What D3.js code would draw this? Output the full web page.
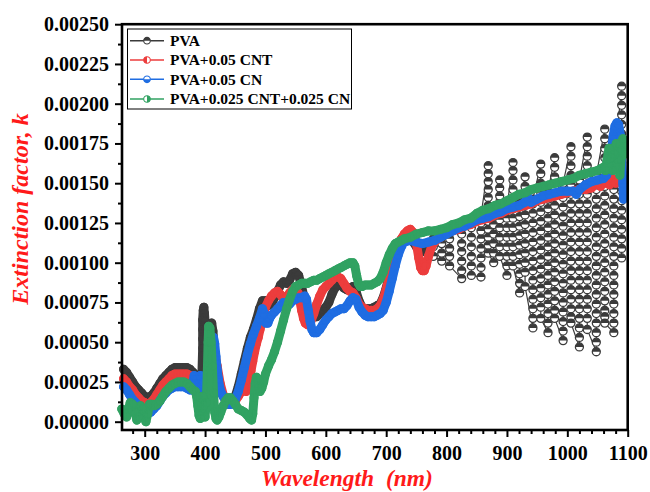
<!DOCTYPE html>
<html><head><meta charset="utf-8">
<script src="https://cdn.jsdelivr.net/npm/d3@7/dist/d3.min.js"></script>
<style>
body{margin:0;background:#fff}
svg text{font-family:"Liberation Serif","Times New Roman",serif;font-weight:bold}
</style>
</head><body>
<svg id="chart" width="650" height="492"></svg>
<script>
// ---------- DATA ----------
const xTicks = [300, 400, 500, 600, 700, 800, 900, 1000, 1100];
const xMinorTicks = [280,320,340,360,380,420,440,460,480,520,540,560,580,620,640,660,680,720,740,760,780,820,840,860,880,920,940,960,980,1020,1040,1060,1080];
const yTicks = [0, 0.00025, 0.0005, 0.00075, 0.001, 0.00125, 0.0015, 0.00175, 0.002, 0.00225, 0.0025];
const yMinorTicks = [0.000125,0.000375,0.000625,0.000875,0.001125,0.001375,0.001625,0.001875,0.002125,0.002375];
const seriesNames = ["PVA", "PVA+0.05 CNT", "PVA+0.05 CN", "PVA+0.025 CNT+0.025 CN"];
const seriesColors = ["#3b3b3b", "#ec3d3d", "#1f6de2", "#31a262"];
const seriesHalf = ["up", "left", "down", "right"];

// PVA (smooth part) [wavelength nm, k]
const pvaK = [[265,0.00033],[270,0.00031],[275,0.00028],[280,0.00025],[285,0.00022],[290,0.00020],[295,0.00018],[300,0.00016],[305,0.00015],[310,0.00016],[315,0.00018],[320,0.00021],[325,0.00024],[330,0.00027],[335,0.00029],[340,0.00031],[345,0.00033],[350,0.00034],[355,0.00034],[360,0.00034],[365,0.00034],[370,0.00034],[375,0.00033],[380,0.00031],[385,0.00029],[388,0.00026],[391,0.00022],[394,0.00020],[396,0.00046],[396,0.00052],[396,0.00058],[396,0.00064],[397,0.00070],[398,0.00072],[399,0.00068],[400,0.00063],[401,0.00058],[403,0.00053],[405,0.00051],[407,0.00055],[409,0.00060],[411,0.00062],[413,0.00057],[415,0.00048],[417,0.00039],[419,0.00032],[421,0.00027],[425,0.00021],[430,0.00016],[435,0.00013],[440,0.00011],[445,0.00012],[450,0.00016],[455,0.00022],[460,0.00030],[465,0.00038],[470,0.00046],[475,0.00053],[480,0.00058],[485,0.00064],[490,0.00071],[495,0.00076],[500,0.00076],[505,0.00073],[510,0.00074],[515,0.00078],[520,0.00082],[525,0.00086],[530,0.00088],[535,0.00087],[540,0.00089],[545,0.00093],[550,0.00094],[555,0.00092],[560,0.00085],[565,0.00076],[570,0.00070],[575,0.00067],[580,0.00066],[585,0.00066],[590,0.00068],[595,0.00070],[600,0.00072],[605,0.00075],[610,0.00080],[615,0.00084],[620,0.00086],[625,0.00086],[630,0.00084],[635,0.00083],[640,0.00084],[645,0.00085],[650,0.00082],[655,0.00076],[660,0.00072],[665,0.00071],[670,0.00071],[675,0.00071],[680,0.00072],[685,0.00073],[690,0.00074],[695,0.00078],[700,0.00084],[705,0.00092],[710,0.00100],[715,0.00106],[720,0.00110],[725,0.00113],[730,0.00115],[735,0.00117],[740,0.00116],[745,0.00113],[750,0.00110],[755,0.00108],[760,0.00107],[765,0.00108],[770,0.00110]];

// PVA interference-fringe region: wavelength of each column and the k values stacked in it
const pvaFringeNm = [778, 792, 805, 825, 841, 857, 869, 878, 888, 900, 910, 921, 930, 943, 956, 968, 979, 993, 1006, 1020, 1033, 1048, 1062, 1077, 1090];
const pvaFringeK = [
 [0.00115,0.00110,0.00104],
 [0.00101,0.00106,0.00112,0.00118],
 [0.00120,0.00115,0.00109,0.00104,0.00098],
 [0.00090,0.00095,0.00101,0.00107,0.00112,0.00118,0.00124],
 [0.00128,0.00122,0.00116,0.00110,0.00104,0.00098,0.00092],
 [0.00091,0.00097,0.00103,0.00109,0.00115,0.00120,0.00125,0.00130],
 [0.00161,0.00156,0.00151,0.00146,0.00141,0.00136,0.00131,0.00126,0.00121,0.00116,0.00111,0.00106],
 [0.00100,0.00106,0.00112,0.00118,0.00124,0.00130],
 [0.00152,0.00147,0.00142,0.00137,0.00132,0.00127,0.00122,0.00116,0.00110,0.00104],
 [0.00092,0.00098,0.00104,0.00110,0.00116,0.00122,0.00128,0.00135],
 [0.00163,0.00158,0.00152,0.00146,0.00140,0.00134,0.00128,0.00122,0.00116,0.00110,0.00104,0.00098],
 [0.00081,0.00087,0.00093,0.00099,0.00105,0.00111,0.00117,0.00123,0.00129,0.00135,0.00138],
 [0.00154,0.00148,0.00142,0.00136,0.00130,0.00124,0.00118,0.00112,0.00106,0.00100,0.00094,0.00085],
 [0.00059,0.00065,0.00071,0.00077,0.00083,0.00089,0.00095,0.00101,0.00107,0.00113,0.00119,0.00125,0.00131,0.00137,0.00140],
 [0.00162,0.00156,0.00150,0.00144,0.00138,0.00132,0.00126,0.00120,0.00114,0.00108,0.00102,0.00096,0.00090,0.00084,0.00078,0.00072,0.00065],
 [0.00056,0.00062,0.00068,0.00074,0.00080,0.00086,0.00092,0.00098,0.00104,0.00110,0.00116,0.00122,0.00128,0.00134,0.00140,0.00145],
 [0.00166,0.00160,0.00154,0.00148,0.00142,0.00136,0.00130,0.00124,0.00118,0.00112,0.00106,0.00100,0.00094,0.00088,0.00082,0.00076,0.00070,0.00065],
 [0.00051,0.00057,0.00063,0.00069,0.00075,0.00081,0.00087,0.00093,0.00099,0.00105,0.00111,0.00117,0.00123,0.00129,0.00135,0.00141,0.00146,0.00150],
 [0.00173,0.00167,0.00161,0.00155,0.00149,0.00143,0.00137,0.00131,0.00125,0.00119,0.00113,0.00107,0.00101,0.00095,0.00089,0.00083,0.00077,0.00071,0.00066,0.00062],
 [0.00047,0.00053,0.00059,0.00065,0.00071,0.00077,0.00083,0.00089,0.00095,0.00101,0.00107,0.00113,0.00119,0.00125,0.00131,0.00137,0.00143,0.00148,0.00152],
 [0.00179,0.00173,0.00167,0.00161,0.00155,0.00149,0.00143,0.00137,0.00131,0.00125,0.00119,0.00113,0.00107,0.00101,0.00095,0.00089,0.00083,0.00077,0.00071,0.00065,0.00058],
 [0.00044,0.00050,0.00056,0.00062,0.00068,0.00074,0.00080,0.00086,0.00092,0.00098,0.00104,0.00110,0.00116,0.00122,0.00128,0.00134,0.00140,0.00146,0.00151,0.00155],
 [0.00184,0.00178,0.00172,0.00166,0.00160,0.00154,0.00148,0.00142,0.00136,0.00130,0.00124,0.00118,0.00112,0.00106,0.00100,0.00094,0.00088,0.00082,0.00076,0.00070,0.00066,0.00062],
 [0.00056,0.00062,0.00068,0.00074,0.00080,0.00086,0.00092,0.00098,0.00104,0.00110,0.00116,0.00122,0.00128,0.00134,0.00140,0.00146,0.00152,0.00156,0.00160],
 [0.00211,0.00205,0.00199,0.00193,0.00187,0.00181,0.00175,0.00169,0.00163,0.00157,0.00151,0.00145,0.00139,0.00133,0.00127,0.00121,0.00115,0.00109,0.00103]
];

// PVA+0.05 CNT
const cntK = [[265,0.00027],[270,0.00025],[275,0.00022],[280,0.00020],[285,0.00017],[290,0.00015],[295,0.00013],[300,0.00012],[305,0.00011],[310,0.00012],[315,0.00014],[320,0.00017],[325,0.00020],[330,0.00023],[335,0.00025],[340,0.00027],[345,0.00029],[350,0.00030],[355,0.00030],[360,0.00030],[365,0.00030],[370,0.00030],[375,0.00029],[380,0.00027],[385,0.00026],[390,0.00026],[395,0.00027],[400,0.00028],[405,0.00030],[410,0.00040],[415,0.00045],[420,0.00035],[425,0.00024],[430,0.00017],[435,0.00014],[440,0.00012],[445,0.00012],[450,0.00013],[455,0.00016],[460,0.00019],[465,0.00020],[468,0.00019],[470,0.00021],[473,0.00026],[476,0.00032],[479,0.00038],[482,0.00044],[485,0.00049],[488,0.00053],[491,0.00058],[494,0.00063],[497,0.00068],[500,0.00072],[505,0.00076],[510,0.00079],[515,0.00081],[520,0.00082],[525,0.00080],[530,0.00077],[535,0.00078],[540,0.00081],[545,0.00083],[550,0.00083],[554,0.00081],[557,0.00076],[560,0.00070],[563,0.00065],[566,0.00062],[570,0.00061],[575,0.00063],[580,0.00068],[585,0.00074],[590,0.00079],[595,0.00083],[600,0.00085],[605,0.00087],[610,0.00089],[615,0.00091],[620,0.00091],[625,0.00090],[630,0.00087],[635,0.00084],[640,0.00082],[645,0.00081],[650,0.00078],[655,0.00074],[660,0.00072],[665,0.00071],[670,0.00070],[675,0.00070],[680,0.00070],[685,0.00071],[690,0.00073],[695,0.00077],[700,0.00083],[705,0.00091],[710,0.00099],[715,0.00106],[720,0.00111],[725,0.00115],[730,0.00118],[735,0.00120],[740,0.00121],[745,0.00119],[750,0.00112],[754,0.00103],[757,0.00097],[760,0.00095],[763,0.00095],[766,0.00098],[770,0.00104],[775,0.00110],[780,0.00113],[785,0.00115],[790,0.00116],[795,0.00118],[800,0.00119],[810,0.00120],[820,0.00121],[830,0.00123],[840,0.00124],[850,0.00126],[860,0.00127],[870,0.00128],[880,0.00130],[890,0.00131],[900,0.00133],[910,0.00134],[920,0.00135],[930,0.00136],[940,0.00137],[950,0.00139],[960,0.00140],[970,0.00141],[980,0.00142],[990,0.00143],[1000,0.00144],[1010,0.00145],[1020,0.00146],[1030,0.00146],[1040,0.00147],[1045,0.00149],[1050,0.00150],[1055,0.00148],[1060,0.00152],[1065,0.00150],[1070,0.00149],[1075,0.00153],[1080,0.00150],[1085,0.00152],[1090,0.00150]];

// PVA+0.05 CN
const cnK = [[265,0.00022],[270,0.00020],[275,0.00017],[280,0.00014],[285,0.00012],[290,0.00010],[295,0.00008],[300,0.00007],[305,0.00006],[310,0.00006],[315,0.00008],[320,0.00010],[325,0.00013],[330,0.00016],[335,0.00018],[340,0.00020],[345,0.00021],[350,0.00022],[355,0.00022],[360,0.00022],[365,0.00022],[370,0.00021],[375,0.00020],[378,0.00020],[380,0.00025],[382,0.00029],[384,0.00026],[386,0.00021],[388,0.00018],[390,0.00024],[392,0.00029],[394,0.00024],[396,0.00019],[398,0.00025],[400,0.00029],[402,0.00027],[404,0.00021],[406,0.00028],[408,0.00038],[410,0.00046],[412,0.00052],[414,0.00053],[416,0.00049],[418,0.00041],[420,0.00033],[422,0.00027],[424,0.00022],[427,0.00018],[430,0.00016],[435,0.00013],[440,0.00011],[445,0.00011],[450,0.00014],[455,0.00019],[460,0.00026],[465,0.00034],[470,0.00042],[475,0.00049],[480,0.00055],[485,0.00060],[490,0.00065],[495,0.00071],[498,0.00068],[501,0.00062],[504,0.00062],[507,0.00065],[510,0.00067],[515,0.00069],[520,0.00071],[525,0.00073],[530,0.00075],[535,0.00075],[540,0.00074],[545,0.00076],[550,0.00077],[555,0.00078],[560,0.00078],[565,0.00079],[568,0.00077],[571,0.00070],[574,0.00063],[577,0.00058],[580,0.00056],[585,0.00056],[590,0.00058],[595,0.00061],[600,0.00064],[605,0.00066],[610,0.00068],[615,0.00069],[620,0.00070],[625,0.00071],[630,0.00071],[635,0.00073],[640,0.00076],[645,0.00078],[650,0.00077],[655,0.00072],[660,0.00069],[665,0.00067],[670,0.00066],[675,0.00066],[680,0.00066],[685,0.00067],[690,0.00068],[695,0.00070],[700,0.00075],[705,0.00082],[710,0.00090],[715,0.00098],[720,0.00105],[725,0.00110],[730,0.00113],[740,0.00114],[750,0.00113],[760,0.00112],[770,0.00113],[780,0.00114],[790,0.00116],[800,0.00118],[810,0.00120],[820,0.00122],[830,0.00123],[840,0.00125],[850,0.00127],[860,0.00128],[870,0.00129],[880,0.00131],[890,0.00132],[900,0.00134],[910,0.00135],[920,0.00136],[930,0.00138],[935,0.00141],[940,0.00138],[950,0.00140],[960,0.00142],[970,0.00143],[980,0.00144],[990,0.00145],[1000,0.00145],[1010,0.00145],[1015,0.00143],[1020,0.00146],[1030,0.00149],[1040,0.00151],[1050,0.00152],[1060,0.00153],[1065,0.00155],[1070,0.00160],[1073,0.00170],[1076,0.00180],[1079,0.00186],[1082,0.00188],[1085,0.00187],[1088,0.00180],[1090,0.00165],[1092,0.00150],[1093,0.00140]];

// PVA+0.025 CNT+0.025 CN
const mixK = [[262,0.00008],[266,0.00005],[270,0.00003],[273,0.00008],[276,0.00012],[280,0.00011],[284,0.00006],[287,0.00001],[290,0.00003],[293,0.00010],[296,0.00008],[299,0.00003],[302,0.00000],[305,0.00005],[308,0.00011],[312,0.00011],[316,0.00010],[320,0.00011],[325,0.00013],[330,0.00016],[335,0.00019],[340,0.00021],[345,0.00023],[350,0.00024],[355,0.00025],[360,0.00025],[365,0.00025],[370,0.00024],[375,0.00022],[380,0.00020],[384,0.00019],[386,0.00016],[388,0.00010],[390,0.00004],[392,0.00002],[394,0.00008],[396,0.00016],[398,0.00010],[400,0.00003],[402,0.00012],[404,0.00035],[405,0.00050],[406,0.00060],[408,0.00059],[410,0.00050],[412,0.00035],[414,0.00018],[416,0.00006],[418,0.00002],[420,0.00001],[423,0.00003],[426,0.00006],[430,0.00010],[434,0.00013],[438,0.00015],[442,0.00015],[446,0.00013],[450,0.00011],[455,0.00008],[460,0.00007],[465,0.00006],[470,0.00004],[474,0.00002],[477,0.00001],[479,0.00005],[481,0.00015],[483,0.00024],[485,0.00028],[487,0.00027],[489,0.00021],[491,0.00019],[494,0.00021],[497,0.00025],[500,0.00030],[505,0.00035],[510,0.00039],[515,0.00044],[520,0.00050],[525,0.00057],[530,0.00064],[535,0.00071],[540,0.00077],[545,0.00082],[550,0.00085],[555,0.00086],[560,0.00087],[565,0.00087],[570,0.00087],[575,0.00088],[580,0.00089],[585,0.00089],[590,0.00090],[595,0.00091],[600,0.00092],[605,0.00093],[610,0.00094],[615,0.00095],[620,0.00096],[625,0.00097],[630,0.00098],[635,0.00099],[640,0.00100],[645,0.00100],[648,0.00098],[651,0.00092],[654,0.00087],[657,0.00085],[660,0.00085],[665,0.00086],[670,0.00086],[675,0.00086],[680,0.00087],[685,0.00088],[690,0.00090],[695,0.00094],[700,0.00100],[705,0.00105],[710,0.00109],[715,0.00112],[720,0.00113],[725,0.00114],[730,0.00115],[740,0.00116],[750,0.00118],[760,0.00119],[770,0.00120],[780,0.00120],[790,0.00121],[800,0.00122],[810,0.00124],[820,0.00125],[830,0.00127],[840,0.00128],[850,0.00131],[860,0.00133],[870,0.00134],[880,0.00136],[890,0.00137],[900,0.00139],[910,0.00141],[920,0.00143],[930,0.00144],[940,0.00146],[950,0.00147],[960,0.00148],[970,0.00149],[980,0.00150],[990,0.00151],[1000,0.00152],[1010,0.00153],[1020,0.00155],[1030,0.00156],[1040,0.00157],[1050,0.00158],[1055,0.00159],[1060,0.00160],[1063,0.00158],[1066,0.00165],[1069,0.00172],[1072,0.00166],[1075,0.00158],[1078,0.00168],[1081,0.00175],[1084,0.00165],[1087,0.00155],[1090,0.00170],[1092,0.00178],[1094,0.00168]];

// ---------- CHART ----------
const svg = d3.select("#chart");
const L = 122, R = 627.7, T = 24.2, B = 430;
const x = d3.scaleLinear().domain([262.4, 1100]).range([L, R]);
const y = d3.scaleLinear().domain([-0.0000522, 0.0025]).range([B, T]);

const pvaFringe = pvaFringeNm.flatMap((nm, i) => pvaFringeK[i].map(k => [nm, k]));
const pvaAll = pvaK.concat(pvaFringe);
// each series: full point list, part drawn as dense overlapping-marker band, part drawn as separate markers
const seriesDefs = [
  {all: pvaAll, dense: pvaK, sparse: pvaFringe},
  {all: cntK, dense: cntK, sparse: []},
  {all: cnK, dense: cnK, sparse: []},
  {all: mixK, dense: mixK, sparse: []}
];

function halfPath(kind, r) {
  if (kind === "up") return `M${-r},0A${r},${r} 0 0 1 ${r},0Z`;
  if (kind === "down") return `M${-r},0A${r},${r} 0 0 0 ${r},0Z`;
  if (kind === "left") return `M0,${-r}A${r},${r} 0 0 0 0,${r}Z`;
  return `M0,${-r}A${r},${r} 0 0 1 0,${r}Z`;
}
function drawMarker(g, cx, cy, color, kind, r, bg, sw) {
  const m = g.append("g").attr("transform", `translate(${cx},${cy})`);
  m.append("circle").attr("r", r).attr("fill", bg).attr("stroke", color).attr("stroke-width", sw);
  m.append("path").attr("d", halfPath(kind, r)).attr("fill", color);
}

const plot = svg.append("g");
const line = d3.line().x(d => x(d[0])).y(d => y(d[1]));
seriesDefs.forEach((s, si) => {
  const c = seriesColors[si];
  const g = plot.append("g");
  // densely packed symbols merge into a solid band
  g.append("path").datum(s.dense).attr("d", line).attr("fill", "none")
    .attr("stroke", c).attr("stroke-width", 9).attr("stroke-linejoin", "round").attr("stroke-linecap", "round");
  g.append("path").datum(s.all).attr("d", line).attr("fill", "none")
    .attr("stroke", c).attr("stroke-width", 1.2);
  s.dense.forEach(d => drawMarker(g, x(d[0]), y(d[1]), c, seriesHalf[si], 4, "none", 1.1));
  s.sparse.forEach(d => drawMarker(g, x(d[0]), y(d[1]), c, seriesHalf[si], 4, "#fff", 1.3));
});

// axes
const xAxisMajor = d3.axisBottom(x).tickValues(xTicks).tickSize(7).tickPadding(9).tickFormat(d3.format("d"));
const xAxisMinor = d3.axisBottom(x).tickValues(xMinorTicks).tickSize(4).tickFormat("");
const yAxisMajor = d3.axisLeft(y).tickValues(yTicks).tickSize(7).tickPadding(6).tickFormat(d3.format(".5f"));
const yAxisMinor = d3.axisLeft(y).tickValues(yMinorTicks).tickSize(4).tickFormat("");

function styleAxis(g) {
  g.select(".domain").remove();
  g.selectAll("line").attr("stroke", "#000").attr("stroke-width", 2);
  g.selectAll("text").attr("fill", "#000").style("font-size", "20px").style("font-weight", "bold")
    .style("font-family", '"Liberation Serif","Times New Roman",serif');
}
svg.append("g").attr("transform", `translate(0,${B})`).call(xAxisMajor).call(styleAxis);
svg.append("g").attr("transform", `translate(0,${B})`).call(xAxisMinor).call(styleAxis);
svg.append("g").attr("transform", `translate(${L},0)`).call(yAxisMajor).call(styleAxis);
svg.append("g").attr("transform", `translate(${L},0)`).call(yAxisMinor).call(styleAxis);

// frame
svg.append("rect").attr("x", L).attr("y", T).attr("width", R - L).attr("height", B - T)
  .attr("fill", "none").attr("stroke", "#000").attr("stroke-width", 2.6);

// titles
svg.append("text").attr("x", 347).attr("y", 486).attr("text-anchor", "middle")
  .style("font-size", "23.5px").style("font-style", "italic").style("white-space", "pre")
  .attr("fill", "#ff1a1a").text("Wavelength  (nm)");
svg.append("text").attr("transform", "translate(28,209) rotate(-90)").attr("text-anchor", "middle")
  .style("font-size", "24px").style("font-style", "italic")
  .attr("fill", "#ff1a1a").text("Extinction factor, k");

// legend
const lg = svg.append("g");
lg.append("rect").attr("x", 127.5).attr("y", 29).attr("width", 224).attr("height", 80)
  .attr("fill", "#fff").attr("stroke", "#000").attr("stroke-width", 1);
const rowY = [40.7, 60, 79.3, 99];
seriesNames.forEach((name, i) => {
  lg.append("line").attr("x1", 130).attr("x2", 164).attr("y1", rowY[i]).attr("y2", rowY[i])
    .attr("stroke", seriesColors[i]).attr("stroke-width", 1.5);
  drawMarker(lg, 147, rowY[i], seriesColors[i], seriesHalf[i], 3.3, "#fff", 1.1);
  lg.append("text").attr("x", 170).attr("y", rowY[i]).attr("dy", "0.35em")
    .style("font-size", "15.5px").attr("fill", "#000").text(name);
});
</script>
</body></html>
